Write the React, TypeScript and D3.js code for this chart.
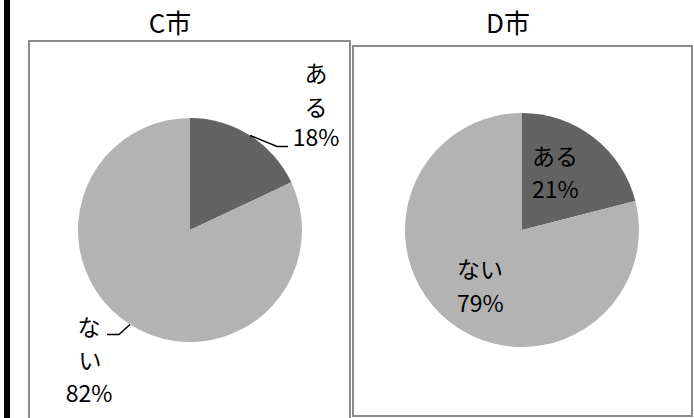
import React from 'react'
import * as d3 from 'd3'

// answer categories, in the order the slices run clockwise from 12 o'clock
const answers = ['ある', 'ない']
const cityNames = ['C市', 'D市']
const cityC = [18, 82]
const cityD = [21, 79]

const sliceColors = ['#636363', '#b3b3b3']
const font = '"Noto Sans CJK JP", "Noto Sans", sans-serif'

type Slice = d3.PieArcDatum<number>

const pie = d3.pie<number>().sort(null).value((d) => d)

const Panel = ({ title, values, cx, cy, r, box, titleX, children }) => {
  const arcs: Slice[] = pie(values)
  const arc = d3.arc<Slice>().innerRadius(0).outerRadius(r)
  return (
    <g>
      <rect x={box[0]} y={box[1]} width={box[2]} height={box[3]} fill="#fff" stroke="#8c8c8c" strokeWidth={2} />
      <text x={titleX} y={33} textAnchor="middle" fontSize={26} fontFamily={font} fill="#000">
        {title}
      </text>
      <g transform={`translate(${cx},${cy})`}>
        {arcs.map((a, i) => (
          <path key={i} d={arc(a) || ''} fill={sliceColors[i]} />
        ))}
      </g>
      {children(arcs)}
    </g>
  )
}

// point on the pie rim at the middle of a slice
const rim = (a: Slice, cx: number, cy: number, r: number) => {
  const m = (a.startAngle + a.endAngle) / 2
  return [cx + r * Math.sin(m), cy - r * Math.cos(m)]
}

const pct = (v: number) => `${d3.format('d')(v)}%`

export default function App() {
  const lbl = { fontSize: 23, fontFamily: font, fill: '#000' }
  return (
    <svg width={694} height={418} style={{ position: 'absolute', left: 0, top: 0, background: '#fff' }}>
      <rect x={4} y={0} width={6} height={418} fill="#000" />

      <Panel title={cityNames[0]} values={cityC} cx={190} cy={230} r={112} box={[29, 41, 321, 400]} titleX={170}>
        {(arcs: Slice[]) => {
          const [ax, ay] = rim(arcs[0], 190, 230, 112)
          const [nx, ny] = rim(arcs[1], 190, 230, 112)
          return (
            <g>
              <polyline points={`${ax},${ay} ${ax + 27},${ay + 11} ${ax + 38},${ay + 11}`} fill="none" stroke="#000" strokeWidth={1.5} />
              <text {...lbl} x={316} y={82} textAnchor="middle">{answers[0][0]}</text>
              <text {...lbl} x={316} y={116} textAnchor="middle">{answers[0][1]}</text>
              <text {...lbl} x={316} y={146} textAnchor="middle">{pct(cityC[0])}</text>

              <polyline points={`${nx},${ny} ${nx - 11},${ny + 10} ${nx - 23},${ny + 10}`} fill="none" stroke="#000" strokeWidth={1.5} />
              <text {...lbl} x={89} y={336} textAnchor="middle">{answers[1][0]}</text>
              <text {...lbl} x={90} y={369} textAnchor="middle">{answers[1][1]}</text>
              <text {...lbl} x={89} y={402} textAnchor="middle">{pct(cityC[1])}</text>
            </g>
          )
        }}
      </Panel>

      <Panel title={cityNames[1]} values={cityD} cx={522} cy={230} r={117} box={[353, 46, 339, 370]} titleX={508}>
        {() => (
          <g>
            <text {...lbl} x={532} y={165}>{answers[0]}</text>
            <text {...lbl} x={532} y={198}>{pct(cityD[0])}</text>
            <text {...lbl} x={457} y={278}>{answers[1]}</text>
            <text {...lbl} x={457} y={312}>{pct(cityD[1])}</text>
          </g>
        )}
      </Panel>
    </svg>
  )
}
